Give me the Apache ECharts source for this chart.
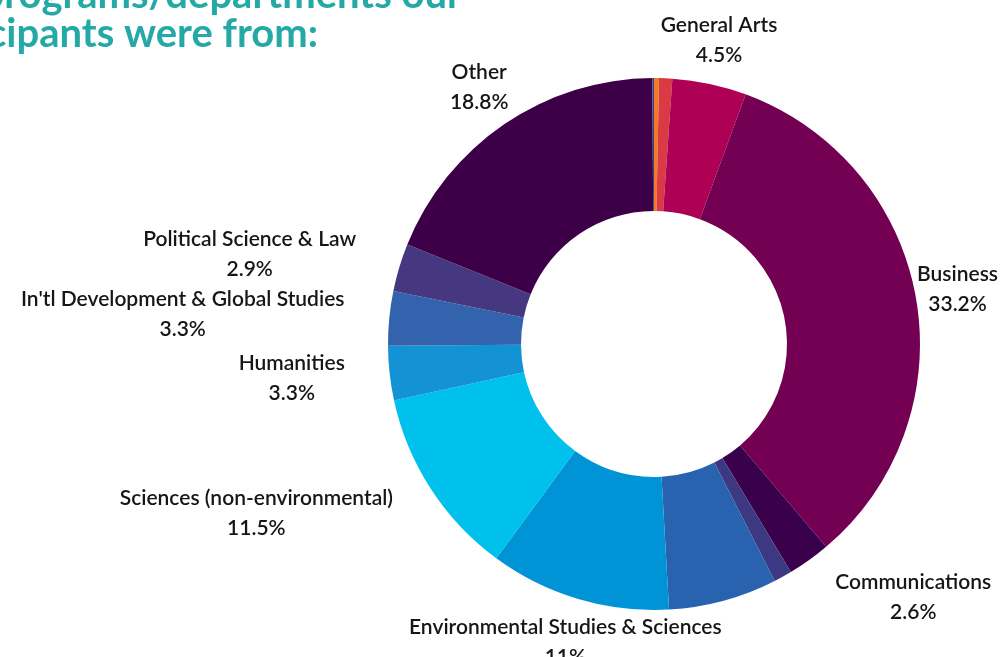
<!DOCTYPE html>
<html>
<head>
<meta charset="utf-8">
<title>Programs / departments</title>
<script src="https://cdn.jsdelivr.net/npm/echarts@6/dist/echarts.min.js"></script>
<style>
  html, body { margin: 0; padding: 0; background: #ffffff; }
  #chart { width: 1000px; height: 657px; }
</style>
</head>
<body>
<div id="chart"></div>
<script>
// Programs / departments, clockwise from 12 o'clock
const categories = [
  'Unlisted A', 'Unlisted B', 'General Arts', 'Business', 'Communications',
  'Unlisted C', 'Unlisted D', 'Environmental Studies & Sciences',
  'Sciences (non-environmental)', 'Humanities',
  "In'tl Development & Global Studies", 'Political Science & Law', 'Other',
  'Unlisted E'
];
const values = [0.3, 0.8, 4.5, 33.2, 2.6, 1.1, 6.6, 11, 11.5, 3.3, 3.3, 2.9, 18.8, 0.1];
const valueLabels = ['', '', '4.5%', '33.2%', '2.6%', '', '', '11%', '11.5%', '3.3%', '3.3%', '2.9%', '18.8%', ''];
const colors = [
  '#F07B22', '#DA3A46', '#AE0054', '#730052', '#39004C', '#3D3882', '#2963B0',
  '#0094D6', '#00C1EC', '#1393D3', '#3463AE', '#453880', '#3D0048', '#3F3C8A'
];
const titleLines = ['What programs/departments our', 'participants were from:'];

const CX = 654, CY = 344, R_IN = 133, R_OUT = 266;
const LABEL_R = 311;      // radius of the label anchor ring
const SIDE_LIMIT = 0.57;  // |sin| above which labels hug the ring edge

const total = values.reduce((a, b) => a + b, 0);
const midDirs = [];
let acc = 0;
values.forEach(v => {
  const mid = (acc + v / 2) / total * Math.PI * 2; // clockwise from top
  midDirs.push([Math.sin(mid), -Math.cos(mid)]);
  acc += v;
});

const chart = echarts.init(document.getElementById('chart'), null, { renderer: 'canvas' });
const W = 1000;

chart.setOption({
  backgroundColor: '#ffffff',
  animation: false,
  graphic: [
    {
      type: 'text', x: 462, y: -25,
      style: {
        text: titleLines[0], align: 'right', verticalAlign: 'top',
        font: 'bold 40px Lato', fill: '#25A9A6'
      }
    },
    {
      type: 'text', x: 318, y: 14,
      style: {
        text: titleLines[1], align: 'right', verticalAlign: 'top',
        font: 'bold 40px Lato', fill: '#25A9A6'
      }
    }
  ],
  series: [{
    type: 'pie',
    center: [CX, CY],
    radius: [R_IN, R_OUT],
    startAngle: 90,
    clockwise: true,
    avoidLabelOverlap: false,
    minShowLabelAngle: 0,
    labelLine: { show: false },
    emphasis: { disabled: true },
    itemStyle: { borderWidth: 0 },
    label: {
      show: true,
      position: 'outside',
      fontFamily: 'Lato',
      fontWeight: 600,
      fontSize: 21,
      lineHeight: 30,
      color: '#161616',
      formatter: p => p.name + '\n' + valueLabels[p.dataIndex]
    },
    labelLayout: p => {
      const i = p.dataIndex;
      const [dx, dy] = midDirs[i];
      const w = p.labelRect.width;
      let x = CX + dx * LABEL_R;
      const y = CY + dy * LABEL_R;
      if (dx > SIDE_LIMIT) x += w / 2;
      else if (dx < -SIDE_LIMIT) x -= w / 2;
      // keep the block inside the canvas
      if (x + w / 2 > W - 2) x = W - 2 - w / 2;
      if (x - w / 2 < 2) x = 2 + w / 2;
      return { x: x, y: y, align: 'center', verticalAlign: 'middle' };
    },
    data: categories.map((name, i) => ({
      name: name,
      value: values[i],
      itemStyle: { color: colors[i] },
      label: { show: valueLabels[i] !== '' }
    }))
  }]
});
</script>
</body>
</html>
